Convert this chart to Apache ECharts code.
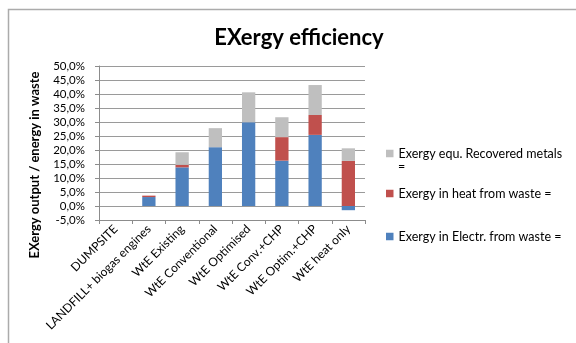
<!DOCTYPE html>
<html>
<head>
<meta charset="utf-8">
<script src="https://cdn.jsdelivr.net/npm/echarts@6/dist/echarts.min.js"></script>
<style>
  html, body { margin: 0; padding: 0; background: #fff; }
  #chart { width: 576px; height: 343px; }
</style>
</head>
<body>
<div id="chart"></div>
<script>
// Categories (waste treatment options)
const categories = [
  'DUMPSITE',
  'LANDFILL+ biogas engines',
  'WtE Existing',
  'WtE Conventional',
  'WtE Optimised',
  'WtE Conv.+CHP',
  'WtE Optim.+CHP',
  'WtE heat only'
];

// Series values, in percent of energy in waste
const electrValues = [0, 3.2, 13.8, 21.0, 29.9, 16.2, 25.4, -1.5];
const heatValues   = [0, 0.5, 0.9, 0, 0, 8.4, 7.1, 16.1];
const metalsValues = [0, 0, 4.5, 6.8, 10.7, 7.1, 10.7, 4.5];

// Series names (the metals label wraps its trailing "=" onto a second line)
const nameElectr = 'Exergy in Electr. from waste =';
const nameHeat = 'Exergy in heat from waste =';
const nameMetals = 'Exergy equ. Recovered metals';
const nameMetalsTail = '=';

// Value axis range and ticks
const yMin = -5, yMax = 50, yStep = 5;

const font = 'Lato, "Noto Sans", sans-serif';
const chart = echarts.init(document.getElementById('chart'));

const legendBase = {
  orient: 'vertical',
  left: 386,
  padding: 0,
  itemWidth: 7.5,
  itemHeight: 7.5,
  icon: 'rect',
  selectedMode: false,
  textStyle: { fontFamily: font, fontSize: 12.5, color: '#000' }
};

chart.setOption({
  animation: false,
  backgroundColor: '#fff',
  title: {
    text: 'EXergy efficiency',
    left: 294,
    textAlign: 'center',
    top: 22,
    textStyle: { fontFamily: font, fontSize: 22, fontWeight: 'bold', color: '#000' }
  },
  graphic: [
    {
      type: 'rect',
      shape: { x: 8.5, y: 9.5, width: 620, height: 400 },
      style: { fill: null, stroke: '#ababab', lineWidth: 1.5 },
      silent: true
    },
    {
      type: 'text',
      left: 398,
      top: 160,
      style: { text: nameMetalsTail, fontFamily: font, fontSize: 12.5, fill: '#000' },
      silent: true
    }
  ],
  legend: [
    Object.assign({}, legendBase, { top: 147, data: [nameMetals] }),
    Object.assign({}, legendBase, { top: 187, data: [nameHeat] }),
    Object.assign({}, legendBase, { top: 230, data: [nameElectr] })
  ],
  grid: { left: 99, top: 66, width: 266, height: 154 },
  xAxis: [
    {
      type: 'category',
      data: categories,
      position: 'bottom',
      axisLine: { show: false },
      axisTick: { show: false },
      axisLabel: {
        interval: 0,
        rotate: 45,
        margin: 7,
        fontFamily: font,
        fontSize: 12,
        color: '#000'
      }
    },
    {
      type: 'category',
      data: categories,
      position: 'bottom',
      axisLine: { show: true, onZero: true, lineStyle: { color: '#8c8c8c', width: 1 } },
      axisTick: { show: true, length: 4, interval: 0, lineStyle: { color: '#8c8c8c' } },
      axisLabel: { show: false }
    }
  ],
  yAxis: {
    type: 'value',
    min: yMin,
    max: yMax,
    interval: yStep,
    name: 'EXergy output / energy in waste',
    nameLocation: 'middle',
    nameGap: 58,
    nameTextStyle: {
      fontFamily: font, fontSize: 13, fontWeight: 'bold', color: '#000',
      padding: [0, 44, 0, 0]
    },
    axisLine: { show: true, lineStyle: { color: '#8c8c8c' } },
    axisTick: { show: true, length: 4, lineStyle: { color: '#8c8c8c' } },
    axisLabel: {
      margin: 14,
      fontFamily: font,
      fontSize: 11.5,
      color: '#000',
      formatter: v => v.toFixed(1).replace('.', ',') + '%'
    },
    splitLine: { show: true, lineStyle: { color: '#9a9a9a', width: 1 } }
  },
  series: [
    {
      name: nameElectr, type: 'bar', stack: 'total', xAxisIndex: 0,
      barWidth: '40%', data: electrValues,
      itemStyle: { color: '#4f81bd' }
    },
    {
      name: nameHeat, type: 'bar', stack: 'total', xAxisIndex: 0,
      barWidth: '40%', data: heatValues,
      itemStyle: { color: '#c0504d' }
    },
    {
      name: nameMetals, type: 'bar', stack: 'total', xAxisIndex: 0,
      barWidth: '40%', data: metalsValues,
      itemStyle: { color: '#bfbfbf' }
    }
  ]
});
</script>
</body>
</html>
